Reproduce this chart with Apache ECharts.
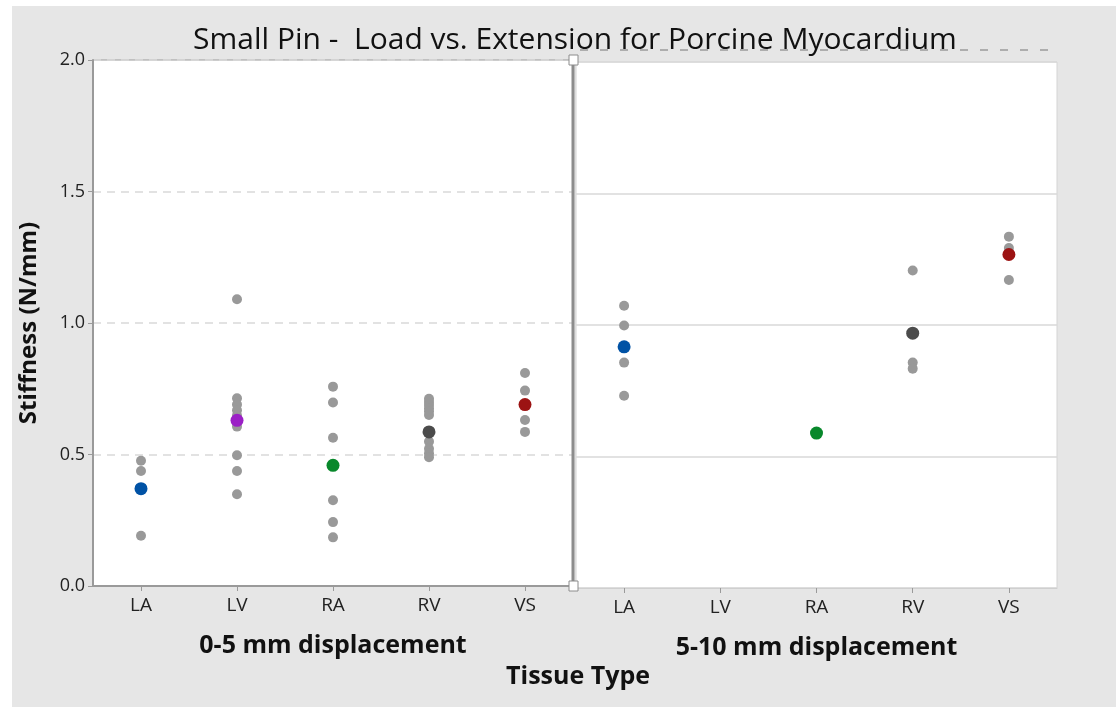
<!DOCTYPE html>
<html><head><meta charset="utf-8">
<script src="https://cdn.jsdelivr.net/npm/echarts@6/dist/echarts.min.js"></script>
<style>html,body{margin:0;padding:0;background:#fff}#c{width:1116px;height:707px}</style>
</head><body><div id="c"></div>
<script>
const categories = ['LA', 'LV', 'RA', 'RV', 'VS'];
const yTicks = [0.0, 0.5, 1.0, 1.5, 2.0];
// individual measurements, 0-5 mm displacement (per tissue, in category order)
const lowLA = [0.476, 0.437, 0.191];
const lowLV = [1.090, 0.714, 0.690, 0.668, 0.648, 0.606, 0.497, 0.437, 0.349];
const lowRA = [0.758, 0.698, 0.564, 0.326, 0.243, 0.185];
const lowRV = [0.712, 0.700, 0.688, 0.676, 0.664, 0.650, 0.549, 0.522, 0.505, 0.490];
const lowVS = [0.810, 0.743, 0.631, 0.586];
// individual measurements, 5-10 mm displacement
const highLA = [1.073, 0.998, 0.857, 0.731];
const highLV = [];
const highRA = [0.589];
const highRV = [1.207, 0.857, 0.834];
const highVS = [1.336, 1.293, 1.171];
// means
const lowMeans = [0.370, 0.630, 0.459, 0.586, 0.690];
const highMeans = [0.917, null, 0.589, 0.969, 1.268];
const meanColors = ['#0052a5', '#9b20c6', '#08882b', '#4b4b4b', '#9c1313'];

const FONT = '"Open Sans",sans-serif';
const G0 = {left: 93, top: 60, width: 480, height: 526};
const G1 = {left: 576, top: 62, width: 481, height: 526};

function pts(groups) {
  const out = [];
  groups.forEach((g, i) => g.forEach(v => out.push([categories[i], v])));
  return out;
}
function meanData(means) {
  return means.map((v, i) => v == null ? null : {value: [categories[i], v], itemStyle: {color: meanColors[i], opacity: 1}}).filter(d => d);
}

const chart = echarts.init(document.getElementById('c'));
const xBase = (gi, name) => ({
  type: 'category', gridIndex: gi, data: categories, boundaryGap: true,
  name: name, nameLocation: 'middle', nameGap: 47,
  nameTextStyle: {fontFamily: FONT, fontSize: 25, fontWeight: 'bold', color: '#111'},
  axisLine: {show: true, lineStyle: {color: gi === 0 ? '#9a9a9a' : '#cfcfcf', width: gi === 0 ? 2 : 1}},
  axisTick: {show: true, alignWithLabel: true, length: 5, lineStyle: {color: '#9a9a9a'}},
  axisLabel: {fontFamily: FONT, fontSize: 19, color: '#222', margin: 10},
  splitLine: {show: false}
});
chart.setOption({
  backgroundColor: '#e6e6e6',
  animation: false,
  title: [
    {text: 'Small Pin -  Load vs. Extension for Porcine Myocardium', left: 570, top: 20, textAlign: 'center',
     textStyle: {fontFamily: FONT, fontSize: 30, fontWeight: 'normal', color: '#111'}},
    {text: 'Tissue Type', left: 573, top: 659, textAlign: 'center',
     textStyle: {fontFamily: FONT, fontSize: 25, fontWeight: 'bold', color: '#111'}}
  ],
  grid: [
    Object.assign({show: true, backgroundColor: '#fff', borderColor: '#9a9a9a', borderWidth: 1}, G0),
    Object.assign({show: true, backgroundColor: '#fff', borderColor: '#d4d4d4', borderWidth: 1}, G1)
  ],
  xAxis: [xBase(0, '0-5 mm displacement'), xBase(1, '5-10 mm displacement')],
  yAxis: [
    {type: 'value', gridIndex: 0, min: 0, max: 2, interval: 0.5,
     name: 'Stiffness (N/mm)', nameLocation: 'middle', nameGap: 52,
     nameTextStyle: {fontFamily: FONT, fontSize: 24, fontWeight: 'bold', color: '#111'},
     axisLine: {show: true, lineStyle: {color: '#9a9a9a', width: 2}},
     axisTick: {show: true, length: 5, lineStyle: {color: '#9a9a9a'}},
     axisLabel: {fontFamily: FONT, fontSize: 18, color: '#222', margin: 8, formatter: v => v.toFixed(1)},
     splitLine: {show: true, lineStyle: {color: '#d9d9d9', type: [8, 6], width: 1.5}}},
    {type: 'value', gridIndex: 1, min: 0, max: 2, interval: 0.5,
     axisLine: {show: false}, axisTick: {show: false}, axisLabel: {show: false},
     splitLine: {show: true, lineStyle: {color: '#d9d9d9', width: 1.5}}}
  ],
  series: [
    {type: 'scatter', xAxisIndex: 0, yAxisIndex: 0, symbolSize: 10, itemStyle: {color: '#999999', opacity: 1},
     data: pts([lowLA, lowLV, lowRA, lowRV, lowVS])},
    {type: 'scatter', xAxisIndex: 0, yAxisIndex: 0, symbolSize: 13, z: 3, itemStyle: {opacity: 1}, data: meanData(lowMeans)},
    {type: 'scatter', xAxisIndex: 1, yAxisIndex: 1, symbolSize: 10, itemStyle: {color: '#999999', opacity: 1},
     data: pts([highLA, highLV, highRA, highRV, highVS])},
    {type: 'scatter', xAxisIndex: 1, yAxisIndex: 1, symbolSize: 13, z: 3, itemStyle: {opacity: 1}, data: meanData(highMeans)}
  ],
  graphic: [
    {type: 'rect', z: -5, silent: true, shape: {x: 0, y: 0, width: 12, height: 707}, style: {fill: '#ffffff'}},
    {type: 'rect', z: -5, silent: true, shape: {x: 0, y: 0, width: 1116, height: 6}, style: {fill: '#ffffff'}},
    {type: 'line', z: -1, silent: true, shape: {x1: 580, y1: 50, x2: 1060, y2: 50},
     style: {stroke: '#9a9a9a', lineWidth: 1.5, lineDash: [8, 12]}},
    {type: 'line', z: 50, shape: {x1: G0.left + G0.width, y1: G0.top, x2: G0.left + G0.width, y2: G0.top + G0.height},
     style: {stroke: '#8c8c8c', lineWidth: 3}},
    {type: 'rect', z: 51, shape: {x: G0.left + G0.width - 4, y: G0.top - 5, width: 9, height: 10},
     style: {fill: '#fff', stroke: '#8c8c8c', lineWidth: 1}},
    {type: 'rect', z: 51, shape: {x: G0.left + G0.width - 4, y: G0.top + G0.height - 5, width: 9, height: 10},
     style: {fill: '#fff', stroke: '#8c8c8c', lineWidth: 1}}
  ]
});
</script></body></html>
